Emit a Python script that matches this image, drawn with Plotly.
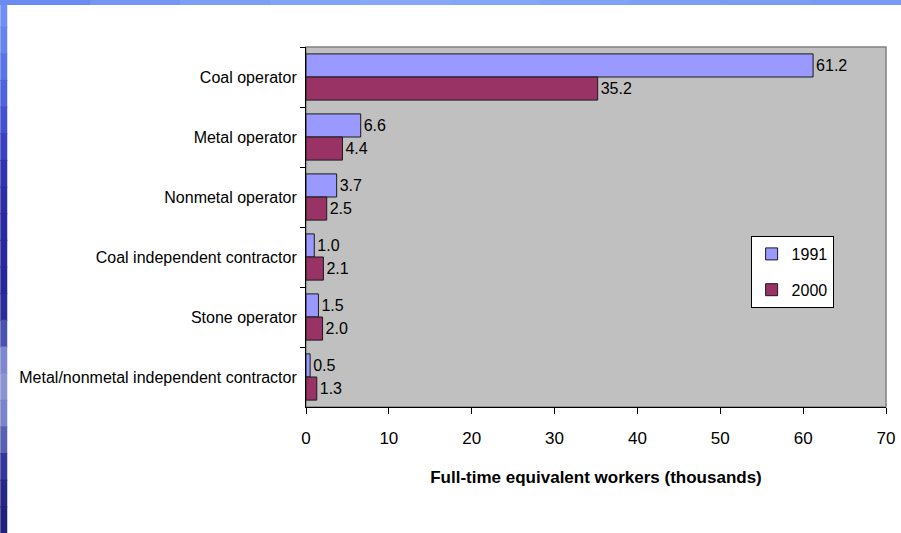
import plotly.graph_objects as go

# Mining workforce by operator type
categories = [
    "Coal operator",
    "Metal operator",
    "Nonmetal operator",
    "Coal independent contractor",
    "Stone operator",
    "Metal/nonmetal independent contractor",
]
workers_1991 = [61.2, 6.6, 3.7, 1.0, 1.5, 0.5]
workers_2000 = [35.2, 4.4, 2.5, 2.1, 2.0, 1.3]
x_ticks = [0, 10, 20, 30, 40, 50, 60, 70]

FONT = "Liberation Sans, Arial, sans-serif"

# plot-area geometry in pixels (for the slide decoration shapes)
W, H = 901, 533
L, R, T, B = 306, 886.5, 47, 407


def px_x(p):
    return (p - L) / (R - L)


def px_y(p):
    return 1 - (p - T) / (B - T)


fig = go.Figure()
fig.add_trace(go.Bar(
    name="1991", y=categories, x=workers_1991, orientation="h",
    legendgroup="a",
    marker=dict(color="#9999FF", line=dict(color="#1a1a1a", width=1)),
    text=[f"{v:.1f}" for v in workers_1991], textposition="outside",
    textfont=dict(family=FONT, size=16, color="black"), cliponaxis=False,
))
fig.add_trace(go.Bar(
    name="2000", y=categories, x=workers_2000, orientation="h",
    legendgroup="b",
    marker=dict(color="#993366", line=dict(color="#1a1a1a", width=1)),
    text=[f"{v:.1f}" for v in workers_2000], textposition="outside",
    textfont=dict(family=FONT, size=16, color="black"), cliponaxis=False,
))

# slide border: blue gradient strips along the left and top edges
left_colors = [
    "#6f8ff2", "#6684ee", "#5a74e6", "#4e62dc", "#4450d0", "#3a40c0",
    "#3034b0", "#2c2ea6", "#2a2aa0", "#28289a", "#262696", "#2a2c98",
    "#4a52b0", "#7f88cc", "#8a94d2", "#7a84c8", "#5a60b0", "#34369a",
    "#262686", "#22227c",
]
seg = H / len(left_colors)
shapes = []
for i, c in enumerate(left_colors):
    shapes.append(dict(
        type="rect", xref="paper", yref="paper", layer="above",
        x0=px_x(0), x1=px_x(7), y0=px_y(i * seg), y1=px_y((i + 1) * seg + 1),
        fillcolor=c, line=dict(width=0),
    ))
top_colors = ["#6a8cf0", "#7496f2", "#7c9ef4", "#82a4f6", "#86a8f6",
              "#84a6f6", "#80a2f4", "#7c9ef4", "#7a9cf2", "#789af2"]
segx = W / len(top_colors)
for i, c in enumerate(top_colors):
    shapes.append(dict(
        type="rect", xref="paper", yref="paper", layer="above",
        x0=px_x(i * segx), x1=px_x((i + 1) * segx + 1),
        y0=px_y(0), y1=px_y(5),
        fillcolor=c, line=dict(width=0),
    ))
shapes.append(dict(
    type="rect", xref="paper", yref="paper", layer="above",
    x0=px_x(0), x1=px_x(7), y0=px_y(0), y1=px_y(5),
    fillcolor="#6a8cf0", line=dict(width=0),
))
# plot-area frame (gray edge on top/right)
shapes.append(dict(
    type="rect", xref="paper", yref="paper", layer="below",
    x0=0, x1=1, y0=0, y1=1, fillcolor="#C0C0C0",
    line=dict(color="#808080", width=1.5),
))

fig.update_layout(
    width=W, height=H,
    margin=dict(l=L, r=W - R, t=T, b=H - B, autoexpand=False),
    paper_bgcolor="white", plot_bgcolor="#C0C0C0",
    barmode="group", bargap=0.23, bargroupgap=0,
    font=dict(family=FONT, size=16, color="black"),
    showlegend=True,
    legend=dict(
        x=px_x(751), y=px_y(236), xanchor="left", yanchor="top",
        bgcolor="white", bordercolor="black", borderwidth=1,
        font=dict(family=FONT, size=16), traceorder="grouped",
        tracegroupgap=12, itemwidth=30,
    ),
    shapes=shapes,
    xaxis=dict(
        range=[0, 70], tickvals=x_ticks, ticktext=[str(v) for v in x_ticks],
        showgrid=False, zeroline=False, showline=True, linecolor="black",
        linewidth=1, ticks="outside", ticklen=6, tickcolor="black",
        tickfont=dict(family=FONT, size=17), automargin=False,
        ticklabelstandoff=10,
        title=dict(text="<b>Full-time equivalent workers (thousands)</b>",
                   font=dict(family=FONT, size=17), standoff=23),
    ),
    yaxis=dict(
        autorange="reversed", showgrid=False, showline=True,
        linecolor="black", linewidth=1, ticks="outside", ticklen=5,
        tickcolor="black", tickson="boundaries", automargin=False,
        ticklabelstandoff=5,
        tickfont=dict(family=FONT, size=16),
    ),
)

fig.write_html("out.html")
